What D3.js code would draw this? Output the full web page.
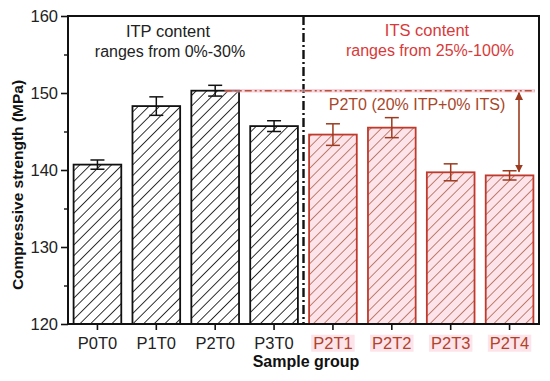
<!DOCTYPE html>
<html>
<head>
<meta charset="utf-8">
<script src="https://cdn.jsdelivr.net/npm/d3@7"></script>
<style>
  body { margin: 0; background: #fff; }
  text { font-family: "Liberation Sans", Arial, sans-serif; }
</style>
</head>
<body>
<div id="chart"></div>
<script>
// data
var groups = ["P0T0", "P1T0", "P2T0", "P3T0", "P2T1", "P2T2", "P2T3", "P2T4"];
var strength = [140.7, 148.3, 150.3, 145.7, 144.6, 145.5, 139.7, 139.3];
var errors = [0.6, 1.2, 0.7, 0.7, 1.4, 1.3, 1.1, 0.6];
var family = ["ITP", "ITP", "ITP", "ITP", "ITS", "ITS", "ITS", "ITS"];
var yTicks = [120, 130, 140, 150, 160];
var yMinor = [125, 135, 145, 155];

var W = 550, H = 381;
var margin = {left: 68, right: 11, top: 16, bottom: 57};

var svg = d3.select("#chart").append("svg")
    .attr("width", W).attr("height", H);

var defs = svg.append("defs");

// hatch patterns
function hatch(id, bg, line, lw) {
    let p = defs.append("pattern")
        .attr("id", id)
        .attr("patternUnits", "userSpaceOnUse")
        .attr("width", 7.5).attr("height", 7.5)
        .attr("patternTransform", "rotate(45)");
    p.append("rect").attr("width", 7.5).attr("height", 7.5).attr("fill", bg);
    p.append("line")
        .attr("x1", 0).attr("y1", 0).attr("x2", 0).attr("y2", 7.5)
        .attr("stroke", line).attr("stroke-width", lw);
}
hatch("hatchBlack", "#fff", "#111", 1.7);
hatch("hatchRed", "#fde3ea", "#9c4a2a", 1.3);

var x = d3.scaleBand()
    .domain(groups)
    .range([margin.left, W - margin.right])
    .paddingInner(0.19)
    .paddingOuter(0.095);

var y = d3.scaleLinear()
    .domain([120, 160])
    .range([H - margin.bottom, margin.top]);

var col = {
    ITP: {fill: "url(#hatchBlack)", stroke: "#111", err: "#111"},
    ITS: {fill: "url(#hatchRed)", stroke: "#c0392b", err: "#9c3b1f"}
};

// bars
svg.append("g")
    .selectAll("rect")
    .data(groups)
    .enter().append("rect")
    .attr("x", (d) => x(d))
    .attr("y", (d, i) => y(strength[i]))
    .attr("width", x.bandwidth())
    .attr("height", (d, i) => y(120) - y(strength[i]))
    .attr("fill", (d, i) => col[family[i]].fill)
    .attr("stroke", (d, i) => col[family[i]].stroke)
    .attr("stroke-width", 1.8);

// error bars
var eg = svg.append("g");
groups.forEach(function(g, i) {
    let cx = x(g) + x.bandwidth() / 2;
    let c = col[family[i]].err;
    let top = y(strength[i] + errors[i]), bot = y(strength[i] - errors[i]);
    eg.append("line").attr("x1", cx).attr("x2", cx).attr("y1", top).attr("y2", bot)
        .attr("stroke", c).attr("stroke-width", 1.5);
    [top, bot].forEach(function(yy) {
        eg.append("line").attr("x1", cx - 7).attr("x2", cx + 7).attr("y1", yy).attr("y2", yy)
            .attr("stroke", c).attr("stroke-width", 1.5);
    });
});

// axes
var plotBottom = H - margin.bottom;
svg.append("g")
    .attr("transform", "translate(" + margin.left + ",0)")
    .call(d3.axisLeft(y).tickValues(yTicks).tickSize(7).tickPadding(3).tickFormat(d3.format("d")))
    .call((g) => g.select(".domain").remove())
    .call((g) => g.selectAll("line").attr("stroke", "#111").attr("stroke-width", 1.6))
    .call((g) => g.selectAll("text").attr("font-size", 16.5).attr("fill", "#222")
        .attr("font-family", "Liberation Sans, Arial, sans-serif"));

svg.append("g")
    .attr("transform", "translate(" + margin.left + ",0)")
    .call(d3.axisLeft(y).tickValues(yMinor).tickSize(4).tickFormat(""))
    .call((g) => g.select(".domain").remove())
    .call((g) => g.selectAll("line").attr("stroke", "#111").attr("stroke-width", 1.4));

var xAxis = svg.append("g")
    .attr("transform", "translate(0," + plotBottom + ")")
    .call(d3.axisBottom(x).tickSize(6).tickPadding(7))
    .call((g) => g.select(".domain").remove())
    .call((g) => g.selectAll("line").attr("stroke", "#111").attr("stroke-width", 1.6));

xAxis.selectAll(".tick text")
    .attr("font-size", 16.5)
    .attr("font-family", "Liberation Sans, Arial, sans-serif")
    .attr("fill", (d, i) => family[i] === "ITS" ? "#b0432a" : "#222");

// pink highlight behind ITS labels
xAxis.selectAll(".tick").each(function(d, i) {
    if (family[i] !== "ITS") return;
    let t = d3.select(this).select("text").node().getBBox();
    d3.select(this).insert("rect", "text")
        .attr("x", t.x - 2).attr("y", t.y + 1)
        .attr("width", t.width + 4).attr("height", t.height - 1)
        .attr("fill", "#fde3ea");
});

// frame
svg.append("rect")
    .attr("x", margin.left).attr("y", margin.top)
    .attr("width", W - margin.right - margin.left)
    .attr("height", plotBottom - margin.top)
    .attr("fill", "none").attr("stroke", "#111").attr("stroke-width", 2);

// divider between the two groups
var divX = x("P2T1") - x.step() * x.paddingInner() / 2;
svg.append("line")
    .attr("x1", divX).attr("x2", divX)
    .attr("y1", margin.top).attr("y2", plotBottom)
    .attr("stroke", "#111").attr("stroke-width", 2.4)
    .attr("stroke-dasharray", "9,3,2,3");

// reference line at P2T0 level
var refY = y(strength[2]);
svg.append("line")
    .attr("x1", x("P2T0") + x.bandwidth() * 0.7).attr("x2", W - margin.right - 4)
    .attr("y1", refY).attr("y2", refY)
    .attr("stroke", "#f4b6c6").attr("stroke-width", 3.5).attr("opacity", 0.6);
svg.append("line")
    .attr("x1", x("P2T0") + x.bandwidth() * 0.7).attr("x2", W - margin.right - 4)
    .attr("y1", refY).attr("y2", refY)
    .attr("stroke", "#b5533c").attr("stroke-width", 1.6)
    .attr("stroke-dasharray", "7,3,2,3,2,3");

// double arrow between P2T0 level and P2T4
defs.append("marker")
    .attr("id", "arr")
    .attr("viewBox", "0 0 10 10")
    .attr("refX", 9).attr("refY", 5)
    .attr("markerWidth", 5).attr("markerHeight", 5)
    .attr("orient", "auto-start-reverse")
    .append("path").attr("d", "M0,0 L10,5 L0,10 z").attr("fill", "#9c3b1f");

var ax = 519;
svg.append("line")
    .attr("x1", ax).attr("x2", ax)
    .attr("y1", refY + 2).attr("y2", y(strength[7] + errors[7]) + 1)
    .attr("stroke", "#9c3b1f").attr("stroke-width", 1.6)
    .attr("marker-start", "url(#arr)").attr("marker-end", "url(#arr)");

// annotations
function label(txt, cx, by, color, size, weight) {
    svg.append("text")
        .attr("x", cx).attr("y", by)
        .attr("text-anchor", "middle")
        .attr("font-size", size)
        .attr("font-weight", weight || "normal")
        .attr("fill", color)
        .text(txt);
}
label("ITP content", 168, 37, "#222", 16.5);
label("ranges from 0%-30%", 170, 57, "#222", 16);
label("ITS content", 427, 36, "#d83a3a", 16.5);
label("ranges from 25%-100%", 430, 56, "#d83a3a", 16);
label("P2T0 (20% ITP+0% ITS)", 417, 110, "#a8472a", 16);

// axis titles
label("Sample group", 306, 367, "#111", 16, "bold");
svg.append("text")
    .attr("transform", "translate(23," + ((margin.top + plotBottom) / 2 + 15) + ") rotate(-90)")
    .attr("text-anchor", "middle")
    .attr("font-size", 15.5)
    .attr("font-weight", "bold")
    .attr("fill", "#111")
    .text("Compressive strength (MPa)");
</script>
</body>
</html>
